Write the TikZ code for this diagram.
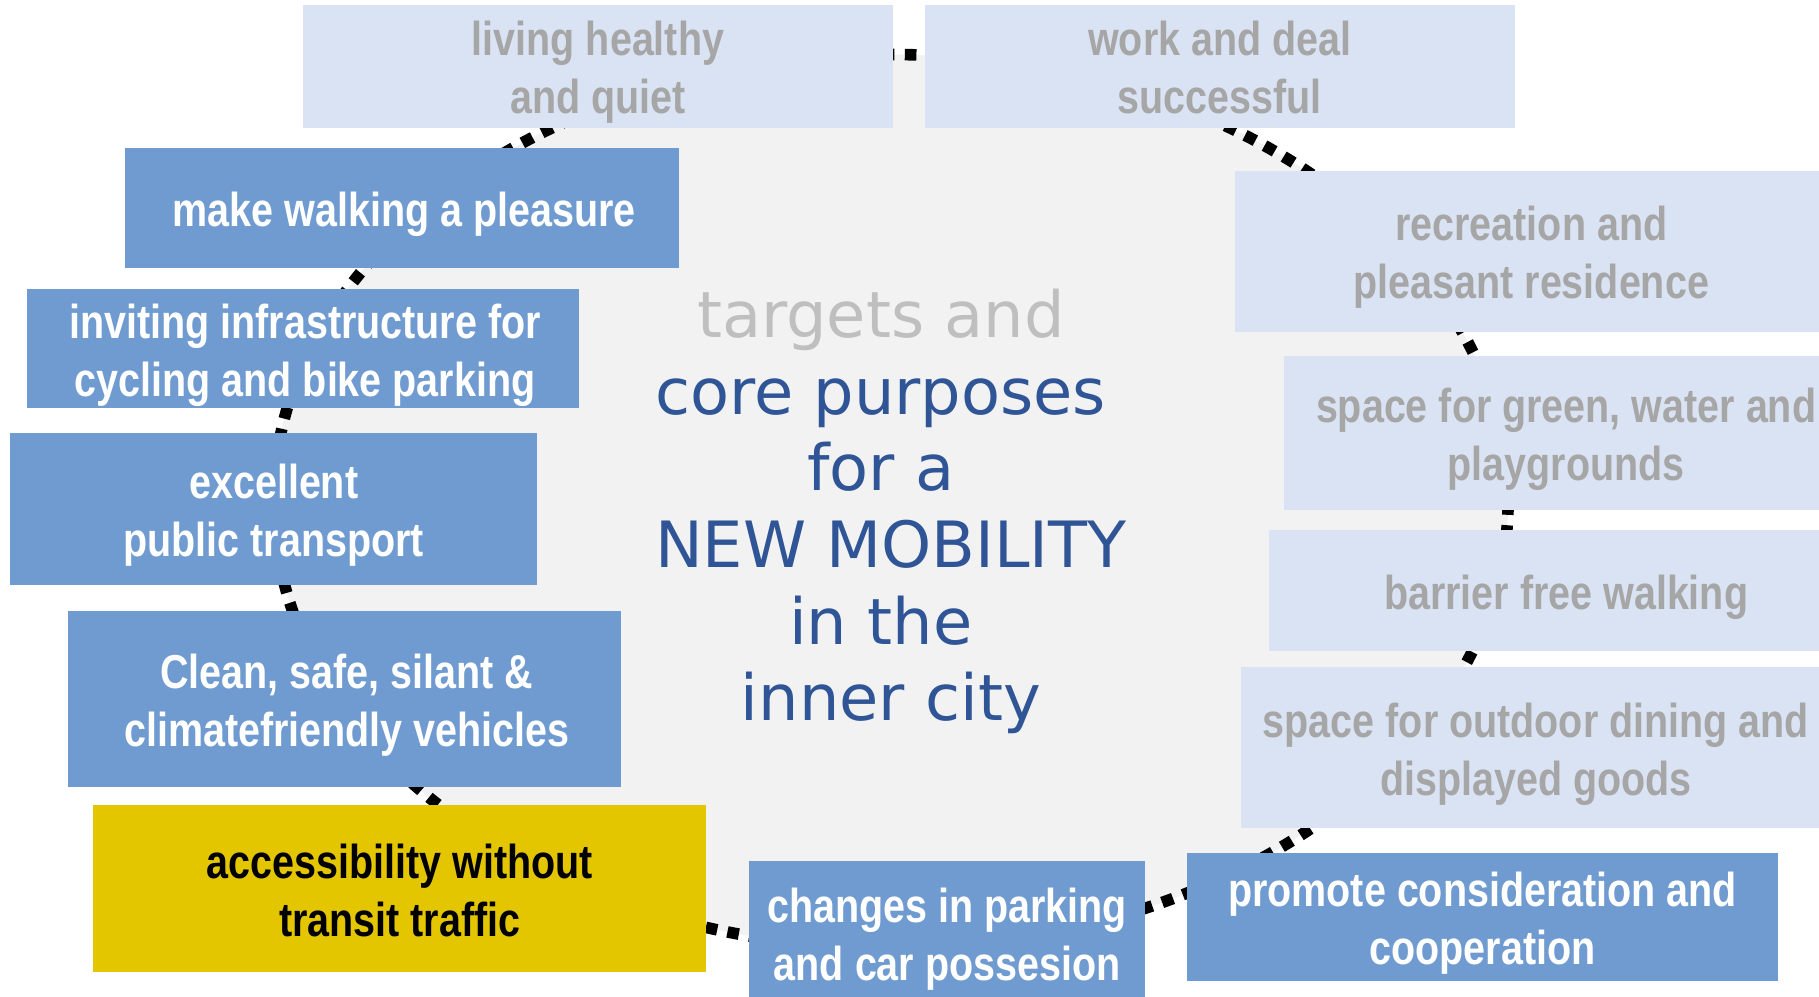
\documentclass[tikz,border=0pt]{standalone}
\usepackage{fontspec}
\newfontfamily\boxfont{Liberation Sans}[FakeStretch=0.83]
\newfontfamily\ctrfont{DejaVu Sans}
\definecolor{circfill}{HTML}{F2F2F2}
\definecolor{lightbox}{HTML}{DAE3F3}
\definecolor{lighttext}{HTML}{A6A6A6}
\definecolor{midblue}{HTML}{6F9BD1}
\definecolor{gold}{HTML}{E3C500}
\definecolor{darkblue}{HTML}{2F5597}
\definecolor{targetgray}{HTML}{BFBFBF}
\newcommand\boxtext[1]{\raisebox{-6pt}[\height][\depth]{\begin{tabular}{@{}c@{}}#1\end{tabular}}}
\newcommand\tsp{\rule{17.5pt}{0pt}}
\begin{document}
\begin{tikzpicture}[x=1pt,y=-1pt,
  base/.style={inner sep=0pt, font=\boxfont\bfseries\fontsize{41}{50}\selectfont},
  lbox/.style={base, fill=lightbox, text=lighttext},
  mbox/.style={base, fill=midblue, text=white},
  ybox/.style={base, fill=gold, text=black},
  ring/.style={fill=circfill, draw=black, line width=10pt, dash pattern=on 10pt off 9pt}]
\clip (0,0) rectangle (1568,859);
\useasboundingbox (0,0) rectangle (1568,859);
\fill[white] (0,0) rectangle (1568,859);
\path[ring] (768,432) ellipse [x radius=532pt, y radius=385pt];
\node[lbox, minimum width=509, minimum height=106] (living) at (515.5,57) {\boxtext{living healthy\\and quiet}};
\node[lbox, minimum width=509, minimum height=106] (work) at (1051.5,57) {\boxtext{work and deal\\successful}};
\node[mbox, minimum width=477, minimum height=103] (walk) at (346.5,179.5) {\boxtext{\hspace*{4pt}make walking a pleasure}};
\node[mbox, minimum width=476, minimum height=103] (cycle) at (261,300.5) {\boxtext{\hspace*{4pt}inviting infrastructure for\\\hspace*{4pt}cycling and bike parking}};
\node[mbox, minimum width=454, minimum height=131] (pt) at (236,438.5) {\boxtext{excellent\\public transport}};
\node[mbox, minimum width=476, minimum height=151] (clean) at (297,602.5) {\boxtext{\hspace*{4pt}Clean, safe, silant \&\\\hspace*{4pt}climatefriendly vehicles}};
\node[ybox, minimum width=529, minimum height=144] (access) at (344.5,766) {\boxtext{accessibility without\\transit traffic}};
\node[mbox, minimum width=341, minimum height=125] (parking) at (816.5,804.5) {\boxtext{changes in parking\\and car possesion}};
\node[mbox, minimum width=510, minimum height=111] (promote) at (1278,790.5) {\boxtext{promote consideration and\\cooperation}};
\node[lbox, minimum width=510, minimum height=139] (recre) at (1320,216.5) {\boxtext{recreation and\\pleasant residence}};
\node[lbox, minimum width=486, minimum height=133] (green) at (1350,373.5) {\boxtext{space for green, water and\\playgrounds}};
\node[lbox, minimum width=512, minimum height=104] (barrier) at (1350,509) {\boxtext{barrier free walking}};
\node[lbox, minimum width=508, minimum height=139] (dining) at (1324,644.5) {\boxtext{space for outdoor dining and\\displayed goods}};
\node[font=\ctrfont\fontsize{55}{66}\selectfont, align=center, text=darkblue, inner sep=0pt] (title) at (768,441)
  {\textcolor{targetgray}{targets and}\tsp\\core purposes\tsp\\for a\tsp\\NEW MOBILITY\\in the\tsp\\inner city};
\end{tikzpicture}
\end{document}
